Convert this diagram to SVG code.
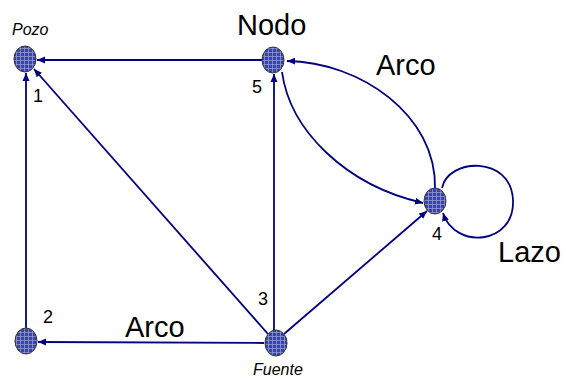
<svg xmlns="http://www.w3.org/2000/svg" width="566" height="379" viewBox="0 0 566 379">
<style>
.e{fill:none;stroke:#000080;stroke-width:1.8;marker-end:url(#ah)}
.n{fill:url(#grid);stroke:#333;stroke-width:1}
.big{font-family:"Liberation Sans",Arial,sans-serif;font-size:29px;fill:#000}
.num{font-family:"Liberation Sans",Arial,sans-serif;font-size:18px;fill:#000}
.it{font-family:"Liberation Sans",Arial,sans-serif;font-size:16px;font-style:italic;fill:#000}
</style>
<defs>
<marker id="ah" markerUnits="userSpaceOnUse" markerWidth="9" markerHeight="8" refX="8" refY="4" orient="auto">
<path d="M0,0.5 L8,4 L0,7.5 z" fill="#000080"/>
</marker>
<pattern id="grid" patternUnits="userSpaceOnUse" width="4" height="4">
<rect width="4" height="4" fill="#3a43a6"/>
<path d="M0,0.5 H4 M0.5,0 V4" stroke="#9aa2e0" stroke-width="0.7"/>
</pattern>
</defs>
<rect width="566" height="379" fill="#fff"/>
<g id="connectors">
<path class="e" d="M262,60 L37,60"/>
<path class="e" d="M26,328 L26,73"/>
<path class="e" d="M268,334 L34,69"/>
<path class="e" d="M264,343 L38,342"/>
<path class="e" d="M274,330 L274,74"/>
<path class="e" d="M284,334 L427,211"/>
<path class="e" d="M435,189 C437,115 360,62 287,61"/>
<path class="e" d="M282,72 C290,130 345,185 423,203"/>
<path class="e" d="M442,188 C448,158 511,155 513,200 C515,245 455,250 443,213"/>
</g>
<g id="node1"><ellipse class="n" cx="25" cy="59" rx="11" ry="13"/><text class="num" x="33" y="102">1</text><text class="it" x="12" y="35">Pozo</text></g>
<g id="node5"><ellipse class="n" cx="273" cy="60" rx="11" ry="13"/><text class="num" x="252" y="93">5</text></g>
<g id="node4"><ellipse class="n" cx="435" cy="201" rx="11" ry="13"/><text class="num" x="432" y="240">4</text></g>
<g id="node2"><ellipse class="n" cx="26" cy="341" rx="11" ry="13"/><text class="num" x="43" y="323">2</text></g>
<g id="node3"><ellipse class="n" cx="276" cy="343" rx="11" ry="13"/><text class="num" x="258" y="305">3</text><text class="it" x="253" y="375">Fuente</text></g>
<g id="labels">
<text class="big" x="237" y="35">Nodo</text>
<text class="big" x="376" y="75">Arco</text>
<text class="big" x="498" y="262">Lazo</text>
<text class="big" x="125" y="337">Arco</text>
</g>
</svg>
